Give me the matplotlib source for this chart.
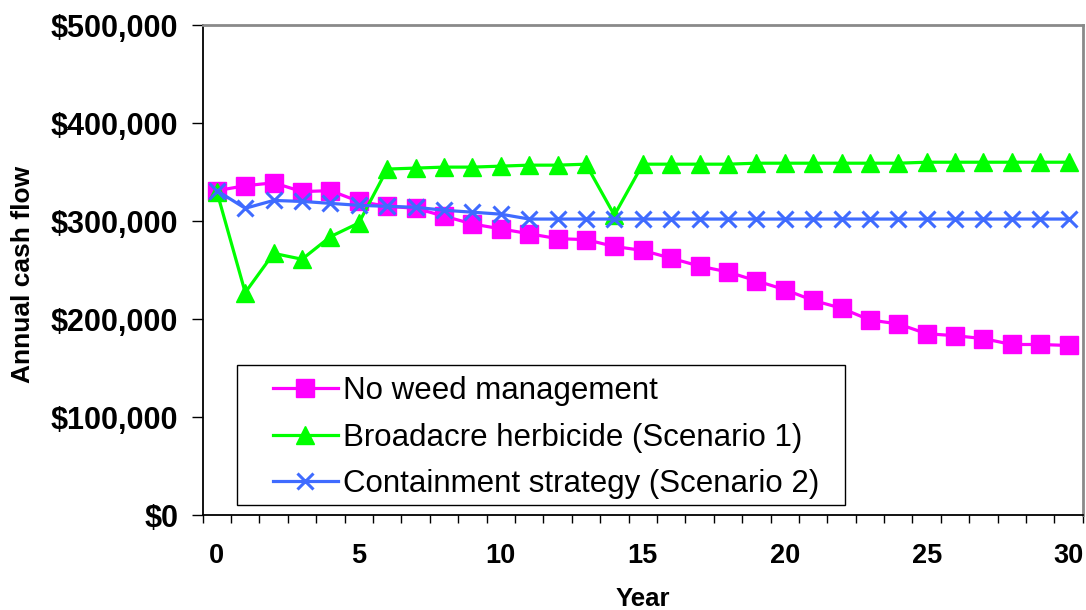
import matplotlib
matplotlib.use("Agg")
import matplotlib.pyplot as plt
from matplotlib.ticker import FuncFormatter
from matplotlib.patches import Rectangle

plt.rcParams["font.family"] = ["Liberation Sans", "DejaVu Sans"]
plt.rcParams["font.weight"] = "bold"

# Annual cash flow by year, in thousands of dollars
years = list(range(31))
no_weed = [331, 336, 339, 330, 331, 320, 315, 313, 305, 297, 292, 287, 282, 281,
           274, 270, 262, 254, 248, 239, 230, 219, 211, 199, 195, 185, 183, 180,
           174, 174, 173]
broadacre = [330, 227, 267, 261, 284, 298, 353, 354, 355, 355, 356, 357, 357, 358,
             306, 358, 358, 358, 358, 359, 359, 359, 359, 359, 359, 360, 360, 360,
             360, 360, 360]
containment = [331, 313, 321, 320, 318, 316, 315, 314, 311, 309, 307, 302, 302, 302,
               302, 302, 302, 302, 302, 302, 302, 302, 302, 302, 302, 302, 302, 302,
               302, 302, 302]

series_labels = ["No weed management",
                 "Broadacre herbicide (Scenario 1)",
                 "Containment strategy (Scenario 2)"]
y_ticks = [0, 100000, 200000, 300000, 400000, 500000]
x_ticks = [0, 5, 10, 15, 20, 25, 30]

fig = plt.figure(figsize=(10.86, 6.10), dpi=100)
ax = fig.add_axes([0.1866, 0.1557, 0.8105, 0.8033])

ax.plot(years, [v * 1000 for v in no_weed], color="#FF00FF", lw=2.3,
        marker="s", ms=12.5, mec="#FF00FF", mfc="#FF00FF", label=series_labels[0],
        clip_on=False, zorder=2)
ax.plot(years, [v * 1000 for v in broadacre], color="#00FF00", lw=2.3,
        marker="^", ms=13.5, mec="#00FF00", mfc="#00FF00", label=series_labels[1],
        clip_on=False, zorder=2.1)
ax.plot(years, [v * 1000 for v in containment], color="#3F6BFF", lw=2.3,
        marker="x", ms=11.5, mew=2.2, mec="#3F6BFF", label=series_labels[2],
        clip_on=False, zorder=2.2)

ax.set_xlim(-0.5, 30.5)
ax.set_ylim(0, 500000)

ax.set_yticks(y_ticks)
ax.yaxis.set_major_formatter(FuncFormatter(lambda v, p: f"${v:,.0f}"))
ax.set_xticks(x_ticks)
ax.set_xticks([i - 0.5 for i in range(32)], minor=True)

ax.tick_params(axis="x", which="major", length=0, pad=20, labelsize=19.5)
ax.tick_params(axis="x", which="minor", length=5.8, width=1, direction="out",
               color="black")
ax.tick_params(axis="y", which="major", length=7.7, width=1, direction="out",
               pad=10, labelsize=22, color="black")

for side in ("left", "bottom"):
    ax.spines[side].set_color("black")
    ax.spines[side].set_linewidth(1.3)
for side in ("top", "right"):
    ax.spines[side].set_color("#8a8a8a")
    ax.spines[side].set_linewidth(2)

ax.set_ylabel("Annual cash flow", fontsize=19, fontweight="bold")
ax.yaxis.set_label_coords(-0.190, 0.49)
ax.set_xlabel("Year", fontsize=18.5, fontweight="bold")
ax.xaxis.set_label_coords(0.5, -0.146)

# Legend frame and entries
ax.add_patch(Rectangle((0.0393, 0.0214), 0.690, 0.2853, transform=ax.transAxes,
                       facecolor="white", edgecolor="black", lw=1, zorder=3))
ax.legend(loc="upper left", bbox_to_anchor=(0.0795, 0.2835), frameon=False,
          borderpad=0, borderaxespad=0, handlelength=2.08, handletextpad=0.18,
          labelspacing=0.53, numpoints=1,
          prop={"family": "Liberation Sans", "weight": "normal", "size": 22.5}
          ).set_zorder(5)

fig.savefig("out.png", dpi=100)
